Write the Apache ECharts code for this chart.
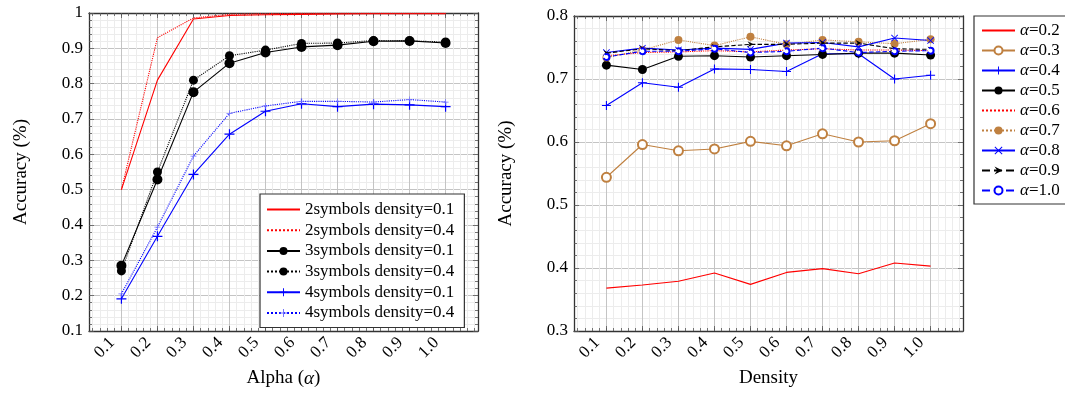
<!DOCTYPE html>
<html>
<head>
<meta charset="utf-8">
<script src="https://cdn.jsdelivr.net/npm/echarts@6/dist/echarts.min.js"></script>
<style>html,body{margin:0;padding:0;background:#fff}#c{width:1065px;height:393px}</style>
</head>
<body>
<div id="c"></div>
<script>
// ---------- data ----------
const xs = [0.1, 0.2, 0.3, 0.4, 0.5, 0.6, 0.7, 0.8, 0.9, 1.0];
const xTickLabels = ['0.1','0.2','0.3','0.4','0.5','0.6','0.7','0.8','0.9','1.0'];

// left chart: accuracy vs alpha
const sym2d01 = [0.500, 0.810, 0.983, 0.993, 0.995, 0.996, 0.997, 0.998, 0.998, 0.998];
const sym2d04 = [0.500, 0.930, 0.986, 0.996, 0.998, 0.999, 0.999, 0.999, 0.999, 0.999];
const sym3d01 = [0.285, 0.529, 0.776, 0.858, 0.888, 0.904, 0.909, 0.920, 0.921, 0.915];
const sym3d04 = [0.270, 0.550, 0.810, 0.879, 0.895, 0.914, 0.915, 0.922, 0.921, 0.918];
const sym4d01 = [0.191, 0.368, 0.543, 0.657, 0.722, 0.743, 0.735, 0.742, 0.740, 0.735];
const sym4d04 = [0.205, 0.394, 0.595, 0.716, 0.737, 0.750, 0.750, 0.748, 0.755, 0.748];

// right chart: accuracy vs density
const a02 = [0.368, 0.373, 0.379, 0.392, 0.374, 0.393, 0.399, 0.391, 0.408, 0.403];
const a03 = [0.544, 0.596, 0.586, 0.589, 0.601, 0.594, 0.613, 0.600, 0.602, 0.629];
const a04 = [0.658, 0.694, 0.687, 0.716, 0.715, 0.712, 0.740, 0.740, 0.700, 0.706];
const a05 = [0.722, 0.715, 0.736, 0.737, 0.735, 0.737, 0.739, 0.741, 0.741, 0.738];
const a06 = [0.737, 0.742, 0.743, 0.745, 0.743, 0.746, 0.748, 0.746, 0.746, 0.745];
const a07 = [0.734, 0.746, 0.762, 0.753, 0.767, 0.755, 0.762, 0.759, 0.756, 0.763];
const a08 = [0.742, 0.749, 0.746, 0.749, 0.747, 0.757, 0.758, 0.751, 0.765, 0.761];
const a09 = [0.741, 0.748, 0.745, 0.751, 0.755, 0.755, 0.757, 0.757, 0.748, 0.747];
const a10 = [0.735, 0.744, 0.744, 0.748, 0.742, 0.744, 0.749, 0.742, 0.744, 0.745];

// ---------- styling ----------
const FONT = 'Liberation Serif';
const RED = '#ff0000', BLUE = '#0000ff', BLACK = '#000000', BROWN = '#bf8040';
const FRAME = '#333333', MAJOR = '#c4c4c4', MINOR = '#ececec', TICK = '#555555';
const XMIN = 0.01, XMAX = 1.09;
const minorX = [];
for (let k = 1; k <= 54; k++) minorX.push(+(k * 0.02).toFixed(2));

const PLUS = 'path://M-0.12,-1 L0.12,-1 L0.12,-0.12 L1,-0.12 L1,0.12 L0.12,0.12 L0.12,1 L-0.12,1 L-0.12,0.12 L-1,0.12 L-1,-0.12 L-0.12,-0.12 Z';
const CROSS = 'path://M-1,-0.83 L-0.83,-1 L0,-0.17 L0.83,-1 L1,-0.83 L0.17,0 L1,0.83 L0.83,1 L0,0.17 L-0.83,1 L-1,0.83 L-0.17,0 Z';
const ARROW = 'path://M-1,-1 L1,0 L-1,1 L-0.3,0 Z';

function xAxesFor(g, name) {
  const base = {type: 'value', gridIndex: g, min: XMIN, max: XMAX, axisLabel: {show: false}};
  return [
    Object.assign({}, base, {position: 'bottom', axisLine: {show: false},
      axisTick: {show: true, inside: true, length: 3, customValues: minorX, lineStyle: {color: TICK, width: 0.8}},
      splitLine: {show: true, lineStyle: {color: MINOR, width: 1}}}),
    Object.assign({}, base, {position: 'top', axisLine: {show: false},
      axisTick: {show: true, inside: true, length: 3, customValues: minorX, lineStyle: {color: TICK, width: 0.8}},
      splitLine: {show: false}}),
    Object.assign({}, base, {position: 'bottom',
      axisLine: {show: true, onZero: false, lineStyle: {color: FRAME, width: 1.3}},
      axisTick: {show: true, inside: true, length: 5, customValues: xs, lineStyle: {color: TICK, width: 0.8}},
      axisLabel: {show: true, customValues: xs, rotate: 45, margin: 0, padding: [0, 13, 0, 0],
        formatter: v => v.toFixed(1), fontFamily: FONT, fontSize: 17, color: '#000'},
      splitLine: {show: true, lineStyle: {color: MAJOR, width: 1}},
      name: name, nameLocation: 'middle', nameGap: 38,
      nameTextStyle: {fontFamily: FONT, fontSize: 19, color: '#000',
        rich: {i: {fontFamily: FONT, fontSize: 19, fontStyle: 'italic', color: '#000'}}}}),
    Object.assign({}, base, {position: 'top',
      axisLine: {show: true, onZero: false, lineStyle: {color: FRAME, width: 1.3}},
      axisTick: {show: true, inside: true, length: 5, customValues: xs, lineStyle: {color: TICK, width: 0.8}},
      splitLine: {show: false}})
  ];
}
function yAxesFor(g, min, max, gap) {
  const fmt = v => (Math.abs(v - 1) < 1e-9 ? '1' : v.toFixed(1));
  return [
    {type: 'value', gridIndex: g, position: 'left', min: min, max: max, interval: 0.1,
      axisLine: {show: true, onZero: false, lineStyle: {color: FRAME, width: 1.3}},
      axisTick: {show: true, inside: true, length: 5, lineStyle: {color: TICK, width: 0.8}},
      minorTick: {show: true, splitNumber: 5, length: 3, lineStyle: {color: TICK, width: 0.8}},
      splitLine: {show: true, lineStyle: {color: MAJOR, width: 1}},
      minorSplitLine: {show: true, lineStyle: {color: MINOR, width: 1}},
      axisLabel: {formatter: fmt, fontFamily: FONT, fontSize: 17, color: '#000', margin: 6},
      name: 'Accuracy (%)', nameLocation: 'middle', nameGap: gap, nameRotate: 90,
      nameTextStyle: {fontFamily: FONT, fontSize: 19, color: '#000'}},
    {type: 'value', gridIndex: g, position: 'right', min: min, max: max, interval: 0.1,
      axisLine: {show: true, onZero: false, lineStyle: {color: FRAME, width: 1.3}},
      axisTick: {show: true, inside: true, length: 5, lineStyle: {color: TICK, width: 0.8}},
      minorTick: {show: true, splitNumber: 5, length: 3, lineStyle: {color: TICK, width: 0.8}},
      splitLine: {show: false}, axisLabel: {show: false}}
  ];
}

function line(name, vals, xi, yi, color, type, symbol, size, extra) {
  const s = {
    name: name, type: 'line', xAxisIndex: xi, yAxisIndex: yi,
    data: xs.map((x, i) => [x, vals[i]]),
    lineStyle: {color: color, width: 1.1, type: type},
    itemStyle: {color: color},
    symbol: symbol || 'none', symbolSize: size || 0, showSymbol: !!symbol,
    z: 3
  };
  if (extra) Object.assign(s, extra);
  return s;
}

const series = [
  line('2symbols density=0.1', sym2d01, 2, 0, RED, 'solid'),
  line('2symbols density=0.4', sym2d04, 2, 0, RED, 'dotted'),
  line('3symbols density=0.1', sym3d01, 2, 0, BLACK, 'solid', 'circle', 10),
  line('3symbols density=0.4', sym3d04, 2, 0, BLACK, 'dotted', 'circle', 9),
  line('4symbols density=0.1', sym4d01, 2, 0, BLUE, 'solid', PLUS, 10),
  line('4symbols density=0.4', sym4d04, 2, 0, BLUE, 'dotted', PLUS, 6, {itemStyle: {color: '#7070ff'}}),

  line('α=0.2', a02, 6, 2, RED, 'solid'),
  line('α=0.3', a03, 6, 2, BROWN, 'solid', 'emptyCircle', 9, {itemStyle: {color: BROWN, borderColor: BROWN, borderWidth: 1}}),
  line('α=0.4', a04, 6, 2, BLUE, 'solid', PLUS, 9),
  line('α=0.5', a05, 6, 2, BLACK, 'solid', 'circle', 9),
  line('α=0.6', a06, 6, 2, RED, 'dotted'),
  line('α=0.7', a07, 6, 2, BROWN, 'dotted', 'circle', 8),
  line('α=0.8', a08, 6, 2, BLUE, 'solid', CROSS, 7),
  line('α=0.9', a09, 6, 2, BLACK, 'dashed', ARROW, 6),
  line('α=1.0', a10, 6, 2, BLUE, 'dashed', 'emptyCircle', 6, {itemStyle: {color: BLUE, borderColor: BLUE, borderWidth: 1, borderType: 'dashed'}})
];

function legendData(list) {
  return list.map(s => s.showSymbol ? {name: s.name} : {name: s.name, itemStyle: {opacity: 0}});
}

const legendText = {fontFamily: FONT, fontSize: 17, color: '#000',
  rich: {i: {fontFamily: FONT, fontSize: 17, fontStyle: 'italic', color: '#000'}}};

const option = {
  animation: false,
  backgroundColor: '#fff',
  grid: [
    {left: 89, top: 13, width: 389, height: 322, containLabel: false},
    {left: 574, top: 16, width: 389, height: 322, containLabel: false}
  ],
  xAxis: [].concat(xAxesFor(0, 'Alpha ({i|α})'), xAxesFor(1, 'Density')),
  yAxis: [].concat(yAxesFor(0, 0.1, 1, 58), yAxesFor(1, 0.3, 0.8, 58)),
  legend: [
    {data: legendData(series.slice(0, 6)), left: 260, top: 194, orient: 'vertical',
      itemWidth: 33, itemHeight: 10, itemGap: 3.7, padding: [7, 10, 6, 6],
      backgroundColor: '#fff', borderColor: FRAME, borderWidth: 1.2, borderRadius: 0,
      selectedMode: false, textStyle: legendText},
    {data: legendData(series.slice(6)), left: 974, top: 16, orient: 'vertical',
      itemWidth: 33, itemHeight: 10, itemGap: 3, padding: [6, 30, 5, 7],
      backgroundColor: '#fff', borderColor: FRAME, borderWidth: 1.2, borderRadius: 0,
      selectedMode: false, textStyle: legendText,
      formatter: n => n.replace('α', '{i|α}')}
  ],
  series: series
};

const chart = echarts.init(document.getElementById('c'), null, {renderer: 'canvas'});
chart.setOption(option);
</script>
</body>
</html>
